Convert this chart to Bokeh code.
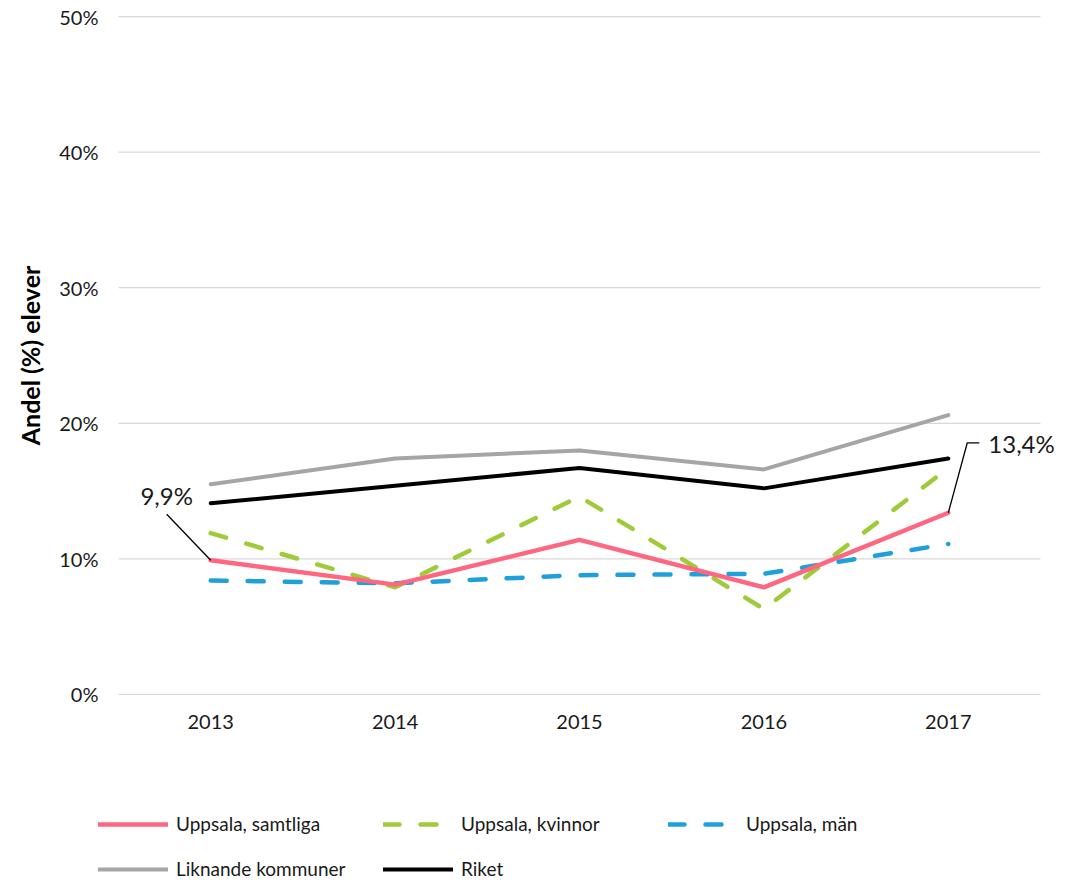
from bokeh.plotting import figure
from bokeh.layouts import column
from bokeh.models import (Range1d, FixedTicker, PrintfTickFormatter,
                          CustomJSTickFormatter, Legend, LegendItem)
from bokeh.core.properties import value
from bokeh.embed import file_html
from bokeh.resources import INLINE

# ---------------- data ----------------
years = ["2013", "2014", "2015", "2016", "2017"]
samtliga = [9.9, 8.1, 11.4, 7.9, 13.4]
kvinnor = [11.9, 7.9, 14.6, 6.3, 16.7]
man = [8.4, 8.2, 8.8, 8.9, 11.1]
liknande = [15.5, 17.4, 18.0, 16.6, 20.6]
riket = [14.1, 15.4, 16.7, 15.2, 17.4]
y_ticks = [0, 10, 20, 30, 40, 50]
series_names = ["Uppsala, samtliga", "Uppsala, kvinnor", "Uppsala, män",
                "Liknande kommuner", "Riket"]
y_label = "Andel (%) elever"

# ---------------- styles ----------------
FONT = "Lato"
TXT = "#1a1a1a"
DASH = "16 21"
styles = [
    dict(line_color="#FF6680", line_width=4.5),
    dict(line_color="#9FCB3A", line_width=4.5, line_dash=DASH),
    dict(line_color="#1F9FDB", line_width=4.5, line_dash=DASH),
    dict(line_color="#A5A5A5", line_width=4),
    dict(line_color="#000000", line_width=4),
]
series = [samtliga, kvinnor, man, liknande, riket]

# ---------------- layout ----------------
n = len(years)
xs = [i + 0.5 for i in range(n)]          # category centres
CELL = 184.4                               # px per category
PXY = 13.56                                # px per percent
W, H1, H2 = 1070, 780, 100
BL, BT = 98, 14
LEFT_PAD_PX = 20                           # empty strip left of the category area
PAD_Y = 0.15
Y0, Y1 = y_ticks[0] - PAD_Y, y_ticks[-1] + PAD_Y
frame_h = round((Y1 - Y0) * PXY)
frame_w = 968
X0 = -LEFT_PAD_PX / CELL
X1 = X0 + frame_w / CELL
BR = W - BL - frame_w
BB = H1 - BT - frame_h

p = figure(width=W, height=H1, x_range=Range1d(X0, X1), y_range=Range1d(Y0, Y1),
           output_backend="svg", toolbar_location=None,
           min_border_left=BL, min_border_right=BR, min_border_top=BT,
           min_border_bottom=BB)
p.outline_line_color = None
p.background_fill_color = "white"
p.border_fill_color = "white"
p.xgrid.grid_line_color = None
p.ygrid.grid_line_color = None

# horizontal gridlines spanning only the category area
p.segment(x0=[0] * len(y_ticks), x1=[n] * len(y_ticks), y0=y_ticks, y1=y_ticks,
          line_color="#D9D9D9", line_width=1.3)

p.yaxis.ticker = FixedTicker(ticks=y_ticks)
p.yaxis.formatter = PrintfTickFormatter(format="%d%%")
p.xaxis.ticker = FixedTicker(ticks=xs)
p.xaxis.formatter = CustomJSTickFormatter(args=dict(years=years),
                                          code="return years[Math.floor(tick)];")
for ax in (p.xaxis, p.yaxis):
    ax.axis_line_color = None
    ax.major_tick_line_color = None
    ax.minor_tick_line_color = None
    ax.major_label_text_font = FONT
    ax.major_label_text_font_size = "20px"
    ax.major_label_text_color = TXT
p.yaxis.major_label_standoff = 14 - LEFT_PAD_PX
p.xaxis.major_label_standoff = 12
p.yaxis.axis_label = y_label
p.yaxis.axis_label_text_font = FONT
p.yaxis.axis_label_text_font_size = "25px"
p.yaxis.axis_label_text_font_style = "bold"
p.yaxis.axis_label_text_color = "#000000"
p.yaxis.axis_label_standoff = 11

# draw in reverse so that Uppsala, samtliga is on top
for vals, st in reversed(list(zip(series, styles))):
    p.line(xs, vals, line_cap="round", line_join="round", **st)


def fmt(v):
    return f"{v:.1f}".replace(".", ",") + "%"


# data label for the first point
i0 = 0
p.line([xs[i0] - 44 / CELL, xs[i0]], [samtliga[i0] + 46 / PXY, samtliga[i0]],
       line_color="#000000", line_width=1.3)
p.text(x=[xs[i0]], y=[samtliga[i0]], text=[fmt(samtliga[i0])],
       x_offset=-44, y_offset=-65, text_align="center", text_baseline="middle",
       text_font=value(FONT), text_font_size="24px", text_color=TXT)

# data label for the last point
i1 = n - 1
p.line([xs[i1], xs[i1] + 19 / CELL, xs[i1] + 31 / CELL],
       [samtliga[i1], samtliga[i1] + 70 / PXY, samtliga[i1] + 70 / PXY],
       line_color="#000000", line_width=1.3)
p.text(x=[xs[i1]], y=[samtliga[i1]], text=[fmt(samtliga[i1])],
       x_offset=40, y_offset=-69, text_align="left", text_baseline="middle",
       text_font=value(FONT), text_font_size="24px", text_color=TXT)

# ---------------- legend (separate strip below) ----------------
# the series are drawn here too, but outside this strip's visible y range
q = figure(width=W, height=H2, x_range=Range1d(X0, X1), y_range=Range1d(-2, -1),
           output_backend="svg", toolbar_location=None,
           x_axis_type=None, y_axis_type=None,
           min_border_left=0, min_border_right=0, min_border_top=0,
           min_border_bottom=0)
q.outline_line_color = None
q.xgrid.grid_line_color = None
q.ygrid.grid_line_color = None
q.background_fill_color = "white"
q.border_fill_color = "white"
items = []
for name, vals, st in zip(series_names, series, styles):
    r = q.line(xs, vals, line_cap="round", line_join="round", **st)
    items.append(LegendItem(label=name, renderers=[r]))
legend = Legend(items=items, orientation="horizontal", ncols=3,
                location=(0, 0), glyph_width=70, glyph_height=22,
                label_height=22, label_width=185, label_standoff=8, spacing=22,
                padding=0, margin=0, border_line_color=None,
                background_fill_alpha=0, label_text_font=FONT,
                label_text_font_size="19px", label_text_color=TXT)
q.add_layout(legend)

layout = column(p, q, spacing=0)
open("out.html", "w").write(file_html(layout, INLINE))
